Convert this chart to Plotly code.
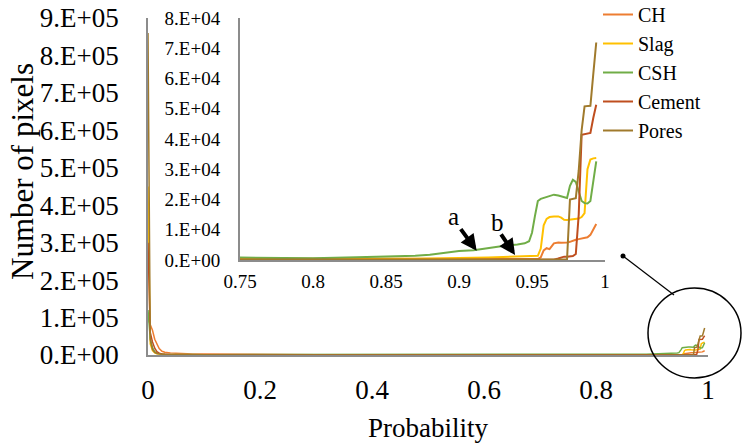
import plotly.graph_objects as go

# Probability bins (shared by every phase)
prob = [0, 0.004, 0.008, 0.012, 0.016, 0.02, 0.025, 0.03, 0.04, 0.05,
        0.06, 0.08, 0.1, 0.15, 0.2, 0.3, 0.4, 0.5, 0.6, 0.7,
        0.75, 0.78, 0.80, 0.83, 0.85, 0.87, 0.88, 0.89, 0.90, 0.91,
        0.92, 0.93, 0.94, 0.945, 0.948, 0.950, 0.952, 0.954, 0.956, 0.958,
        0.960, 0.962, 0.965, 0.968, 0.970, 0.972, 0.974, 0.976, 0.978, 0.980,
        0.982, 0.984, 0.986, 0.988, 0.990, 0.992, 0.994]

# Number of pixels per phase
ch = [96000, 80000, 66000, 42000, 27000, 17000, 10000, 7500, 5500, 4500,
      3800, 3000, 2500, 1800, 1400, 1000, 800, 700, 600, 450,
      350, 300, 300, 300, 300, 300, 300, 300, 300, 300,
      300, 300, 300, 300, 300, 300, 300, 320, 900, 3200,
      3900, 3600, 5500, 5800, 5700, 5700, 5800, 6000, 6400, 6700,
      6900, 7100, 7300, 7500, 8300, 10000, 11900]
slag = [450000, 30000, 12000, 6000, 3500, 2500, 1800, 1400, 1000, 800,
        700, 550, 450, 350, 300, 250, 220, 200, 200, 200,
        200, 250, 300, 350, 400, 450, 500, 550, 650, 750,
        850, 1000, 1150, 1250, 1300, 1300, 1300, 1400, 3800, 11500,
        13600, 14200, 14400, 14400, 14000, 13300, 13200, 13300, 13400, 13500,
        13700, 14200, 15500, 30000, 33200, 33600, 33700]
csh = [120000, 45000, 20000, 9000, 5000, 3500, 2500, 2000, 1500, 1300,
       1200, 1100, 1000, 950, 900, 850, 800, 800, 800, 800,
       800, 650, 600, 900, 1100, 1400, 1700, 2300, 3000, 3200,
       4000, 4600, 5100, 5500, 6200, 9000, 14500, 19500, 20200, 20500,
       20900, 21300, 21600, 21300, 21000, 20600, 20500, 24500, 26500, 25800,
       22500, 19500, 18800, 18700, 19500, 26000, 32600]
cement = [300000, 60000, 35000, 18000, 9000, 5000, 3000, 2000, 1200, 900,
          700, 500, 400, 300, 250, 200, 150, 120, 100, 100,
          100, 100, 100, 100, 100, 100, 100, 100, 100, 100,
          100, 100, 100, 100, 100, 100, 100, 100, 100, 100,
          100, 100, 100, 500, 900, 1100, 1100, 1100, 1300, 2000,
          15000, 41400, 41600, 41700, 42000, 47000, 51300]
pores = [860000, 40000, 15000, 7000, 4000, 2500, 1800, 1300, 900, 700,
         600, 450, 350, 250, 200, 150, 120, 100, 100, 100,
         100, 100, 100, 100, 100, 100, 100, 100, 100, 100,
         100, 100, 100, 100, 100, 100, 100, 100, 100, 100,
         100, 100, 100, 100, 100, 100, 200, 20000, 20200, 20400,
         29600, 42900, 50800, 50800, 51000, 61600, 71900]

names = ["CH", "Slag", "CSH", "Cement", "Pores"]
series = [ch, slag, csh, cement, pores]
colors = ["#ED7D31", "#FFC000", "#70AD47", "#BF4E1F", "#A07A2C"]

# Tick labels
main_xticks = [0, 0.2, 0.4, 0.6, 0.8, 1]
main_xtext = ["0", "0.2", "0.4", "0.6", "0.8", "1"]
main_yticks = [0, 1e5, 2e5, 3e5, 4e5, 5e5, 6e5, 7e5, 8e5, 9e5]
main_ytext = ["0.E+00", "1.E+05", "2.E+05", "3.E+05", "4.E+05",
              "5.E+05", "6.E+05", "7.E+05", "8.E+05", "9.E+05"]
inset_xticks = [0.75, 0.8, 0.85, 0.9, 0.95, 1]
inset_xtext = ["0.75", "0.8", "0.85", "0.9", "0.95", "1"]
inset_yticks = [0, 1e4, 2e4, 3e4, 4e4, 5e4, 6e4, 7e4, 8e4]
inset_ytext = ["0.E+00", "1.E+04", "2.E+04", "3.E+04", "4.E+04",
               "5.E+04", "6.E+04", "7.E+04", "8.E+04"]

FONT = "Liberation Serif, Times New Roman, serif"
W, H = 742, 445
L, R, T, B = 148, 34, 18, 90
PW, PH = W - L - R, H - T - B


def px(x):
    return (x - L) / PW


def py(y):
    return (H - B - y) / PH


fig = go.Figure()

# Full-range curves
for n, s, c in zip(names, series, colors):
    fig.add_trace(go.Scatter(x=prob, y=s, mode="lines", name=n,
                             line=dict(color=c, width=1.5),
                             showlegend=False, xaxis="x", yaxis="y",
                             hoverinfo="skip"))

# Zoomed view of the high-probability tail
for n, s, c in zip(names, series, colors):
    fig.add_trace(go.Scatter(x=prob, y=s, mode="lines", name=n,
                             line=dict(color=c, width=2),
                             legendgroup=n,
                             showlegend=True, xaxis="x2", yaxis="y2"))

axis_line = "#8C8C8C"

fig.update_layout(
    width=W, height=H,
    margin=dict(l=L, r=R, t=T, b=B, autoexpand=False),
    paper_bgcolor="white", plot_bgcolor="rgba(0,0,0,0)",
    font=dict(family=FONT, color="black"),
    xaxis=dict(domain=[0, 1], range=[0, 1], tickvals=main_xticks,
               ticktext=main_xtext, showgrid=False, zeroline=False,
               showline=True, linecolor=axis_line, linewidth=1.5,
               ticks="", ticklabelstandoff=10,
               tickfont=dict(size=27, family=FONT)),
    yaxis=dict(domain=[0, 1], range=[0, 9e5], tickvals=main_yticks,
               ticktext=main_ytext, showgrid=False, zeroline=False,
               showline=True, linecolor=axis_line, linewidth=1.5,
               ticks="", ticklabelstandoff=22,
               tickfont=dict(size=27, family=FONT)),
    xaxis2=dict(domain=[px(240), px(605)], range=[0.75, 1],
                anchor="y2", tickvals=inset_xticks, ticktext=inset_xtext,
                showgrid=False, zeroline=False, showline=True,
                linecolor=axis_line, linewidth=2, ticks="",
                ticklabelstandoff=3, tickfont=dict(size=19, family=FONT)),
    yaxis2=dict(domain=[py(260), py(18)], range=[0, 8e4],
                anchor="x2", tickvals=inset_yticks, ticktext=inset_ytext,
                showgrid=False, zeroline=False, showline=True,
                linecolor=axis_line, linewidth=2, ticks="",
                ticklabelstandoff=14, tickfont=dict(size=19, family=FONT)),
    legend=dict(x=px(598), y=py(-5), xanchor="left", yanchor="top",
                font=dict(size=20, family=FONT), bgcolor="rgba(0,0,0,0)",
                tracegroupgap=0, traceorder="normal"),
    showlegend=True,
)

# Axis titles
fig.add_annotation(text="Probability", xref="paper", yref="paper",
                   x=px(428), y=py(428), xanchor="center", yanchor="middle",
                   showarrow=False, font=dict(size=27, family=FONT))
fig.add_annotation(text="Number of pixels", xref="paper", yref="paper",
                   x=px(22), y=py(172), xanchor="center", yanchor="middle",
                   showarrow=False, textangle=-90,
                   font=dict(size=31, family=FONT))

# Markers "a" and "b" with arrows in the zoomed view
fig.add_annotation(text="a", xref="x2", yref="y2", x=0.8959, y=14400,
                   xanchor="center", yanchor="middle",
                   showarrow=False, font=dict(size=25, family=FONT))
fig.add_annotation(text="b", xref="x2", yref="y2", x=0.9264, y=12400,
                   xanchor="center", yanchor="middle",
                   showarrow=False, font=dict(size=25, family=FONT))
fig.add_annotation(text="", xref="x2", yref="y2", x=0.9121, y=3080,
                   ax=-17, ay=-23, showarrow=True, arrowhead=2,
                   arrowsize=0.8, arrowwidth=4, arrowcolor="black")
fig.add_annotation(text="", xref="x2", yref="y2", x=0.9384, y=1660,
                   ax=-15, ay=-22, showarrow=True, arrowhead=2,
                   arrowsize=0.8, arrowwidth=4, arrowcolor="black")

# Circle around the tail with a leader line to the zoomed view
fig.add_shape(type="circle", xref="paper", yref="paper",
              x0=px(648), x1=px(741), y0=py(378), y1=py(288),
              line=dict(color="black", width=1.5))
fig.add_shape(type="line", xref="paper", yref="paper",
              x0=px(623), y0=py(256), x1=px(674), y1=py(295),
              line=dict(color="black", width=1.2))
fig.add_shape(type="circle", xref="paper", yref="paper",
              x0=px(620.5), x1=px(625.5), y0=py(258.5), y1=py(253.5),
              fillcolor="black", line=dict(color="black", width=0))

fig.write_html("out.html")
